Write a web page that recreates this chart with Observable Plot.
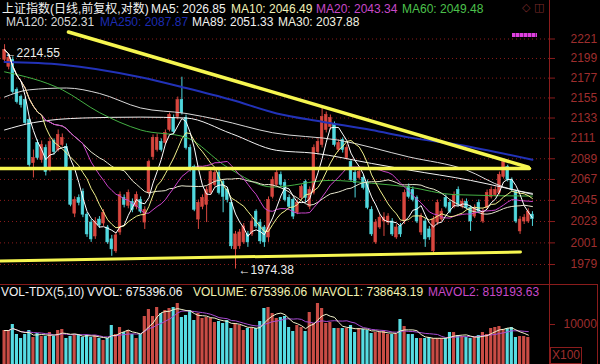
<!DOCTYPE html>
<html><head><meta charset="utf-8">
<script src="https://cdn.jsdelivr.net/npm/d3@7"></script>
<script src="https://cdn.jsdelivr.net/npm/@observablehq/plot@0.6"></script>
<style>
body{margin:0;background:#000;}
#root{position:relative;width:600px;height:364px;overflow:hidden;background:#000;font-family:"Liberation Sans",Arial,"Noto Sans CJK SC",sans-serif;font-size:12px;}
.t{position:absolute;white-space:nowrap;line-height:14px;font-size:12px;}
.ln{position:absolute;background:#8a1c1c;}
</style></head><body>
<div id="root"></div>
<script>
// ---- daily candles (index 0..128) ----
const opens = [2197.5,2189.6,2197.5,2163.8,2156.0,2152.6,2130.9,2084.3,2106.0,2087.5,2100.6,2079.1,2108.1,2098.4,2103.8,2101.6,2077.0,2031.1,2047.5,2053.8,2030.1,2021.9,2007.6,2025.0,2020.9,2016.8,2004.6,1992.4,2011.7,2047.5,2039.3,2043.4,2038.3,2045.4,2021.9,2052.8,2090.8,2098.4,2107.0,2106.0,2120.0,2133.1,2134.1,2152.6,2133.1,2100.6,2080.1,2025.0,2038.3,2040.3,2052.8,2061.2,2073.8,2064.3,2055.9,2042.3,1994.4,1997.5,2001.5,2009.7,2009.7,2033.2,2021.9,2016.8,2006.6,2048.6,2061.2,2071.7,2063.3,2047.5,2045.4,2032.1,2047.5,2064.3,2038.3,2052.8,2096.2,2103.8,2120.0,2123.3,2125.5,2098.4,2109.2,2089.7,2085.4,2073.8,2068.6,2068.6,2063.3,2035.2,2001.5,2016.8,2023.0,2021.9,2023.0,2006.6,2017.9,2023.0,2059.1,2055.9,2047.5,2011.7,2023.0,2014.8,1992.4,2021.9,2025.0,2047.5,2042.3,2038.3,2055.9,2038.3,2043.4,2037.2,2028.1,2042.3,2023.0,2037.2,2048.6,2050.7,2052.8,2069.6,2080.1,2066.4,2053.8,2012.8,2023.0,2023.0,2030.1];
const closes = [2208.7,2199.7,2161.6,2150.4,2147.2,2127.6,2082.2,2089.7,2089.7,2103.8,2074.9,2107.0,2096.2,2114.6,2111.4,2080.1,2040.3,2045.4,2042.3,2030.1,2009.7,2004.6,2023.0,2018.9,2032.1,2001.5,1994.4,2008.7,2050.7,2040.3,2052.8,2035.2,2050.7,2033.2,2035.2,2085.4,2111.4,2111.4,2098.4,2116.8,2136.3,2117.9,2152.6,2138.5,2100.6,2077.0,2035.2,2042.3,2047.5,2055.9,2074.9,2073.8,2052.8,2048.6,2045.4,1997.5,2009.7,2011.7,2017.9,2001.5,2023.0,2017.9,2002.6,2001.5,2045.4,2066.4,2073.8,2061.2,2045.4,2038.3,2028.1,2042.3,2059.1,2047.5,2055.9,2100.6,2107.0,2134.1,2136.3,2133.1,2103.8,2106.0,2098.4,2100.6,2066.4,2063.3,2074.9,2058.0,2037.2,2009.7,2021.9,2027.0,2027.0,2028.1,2009.7,2016.8,2009.7,2052.8,2048.6,2045.4,2023.0,2028.1,2004.6,2006.6,2025.0,2042.3,2033.2,2038.3,2033.2,2050.7,2040.3,2043.4,2037.2,2023.0,2037.2,2033.2,2033.2,2052.8,2055.9,2055.9,2071.7,2085.4,2066.4,2055.9,2023.0,2025.0,2027.0,2033.2,2025.5];
const highs = [2214.55,2203.1,2200.8,2166.1,2158.2,2154.9,2133.1,2098.4,2109.2,2108.1,2103.8,2111.4,2110.3,2120.0,2115.7,2104.9,2079.1,2048.6,2050.7,2057.0,2032.1,2025.0,2027.0,2028.1,2035.2,2018.9,2008.7,2011.7,2053.8,2050.7,2055.9,2046.5,2053.8,2048.6,2038.3,2087.5,2114.6,2115.7,2110.3,2120.0,2138.5,2136.3,2156.0,2178.0,2136.3,2103.8,2082.2,2045.4,2050.7,2059.1,2077.0,2077.0,2077.0,2066.4,2058.0,2045.4,2012.8,2014.8,2020.9,2012.8,2027.0,2035.2,2025.0,2018.9,2048.6,2069.6,2077.0,2074.9,2066.4,2050.7,2047.5,2045.4,2061.2,2066.4,2059.1,2103.8,2111.4,2145.0,2139.6,2136.3,2128.7,2109.2,2111.4,2103.8,2087.5,2077.0,2078.0,2071.7,2066.4,2038.3,2025.0,2030.1,2032.1,2031.1,2026.0,2019.9,2020.9,2055.9,2062.2,2059.1,2049.6,2031.1,2026.0,2017.9,2028.1,2045.4,2036.2,2050.7,2045.4,2053.8,2059.1,2046.5,2046.5,2039.3,2040.3,2045.4,2036.2,2055.9,2059.1,2059.1,2074.9,2087.5,2082.2,2068.6,2055.9,2028.1,2030.1,2036.2,2033.2];
const lows = [2194.1,2186.2,2159.3,2148.3,2143.9,2125.5,2080.1,2068.6,2087.5,2084.3,2070.7,2074.9,2093.0,2096.2,2101.6,2078.0,2038.3,2027.0,2039.3,2027.0,2006.6,2001.5,2004.6,2015.8,2017.9,1999.5,1987.3,1990.3,2008.7,2037.2,2036.2,2032.1,2035.2,2031.1,2014.8,2050.7,2087.5,2096.2,2096.2,2103.8,2117.9,2115.7,2130.9,2136.3,2098.4,2074.9,2033.2,2014.8,2035.2,2021.9,2050.7,2059.1,2050.7,2032.1,2042.3,1994.4,1974.38,1994.4,1999.5,1996.4,2007.6,2015.8,1999.5,1996.4,2001.5,2046.5,2059.1,2059.1,2043.4,2036.2,2025.0,2030.1,2045.4,2042.3,2035.2,2050.7,2093.0,2100.6,2116.8,2120.0,2101.6,2096.2,2095.1,2087.5,2064.3,2047.5,2066.4,2055.9,2035.2,2007.6,1999.5,2014.8,2007.6,2018.9,2007.6,2004.6,2006.6,2019.9,2046.5,2043.4,2020.9,2008.7,1996.4,2003.6,1989.3,2018.9,2023.0,2036.2,2031.1,2036.2,2038.3,2036.2,2035.2,2012.8,2026.0,2031.1,2020.9,2035.2,2046.5,2048.6,2050.7,2067.5,2064.3,2053.8,2020.9,2009.7,2019.9,2020.9,2017.9];
const volumes = [850000,850000,1000000,750000,650000,750000,850000,675000,775000,700000,700000,800000,700000,850000,875000,650000,700000,750000,750000,675000,725000,675000,725000,650000,600000,650000,975000,750000,925000,800000,850000,750000,650000,750000,1200000,1375000,1200000,1425000,1275000,1350000,1400000,1425000,
1525000,1175000,1225000,1350000,1100000,1275000,1150000,1175000,1150000,1050000,1075000,1025000,1100000,900000,1025000,975000,850000,900000,900000,900000,1075000,1400000,1425000,1275000,1150000,1175000,1200000,925000,825000,975000,925000,825000,1300000,1025000,1525000,1400000,1025000,1050000,900000,900000,900000,900000,975000,
800000,900000,875000,850000,775000,800000,800000,825000,750000,750000,750000,1125000,950000,750000,750000,650000,650000,650000,675000,650000,650000,650000,650000,800000,800000,725000,700000,675000,650000,675000,725000,800000,750000,900000,925000,950000,875000,900000,925000,675000,700000,700000,675396.06];

// ---- long moving averages (index, value) ----
const ma60Idx  = [0,14,23,33,44,54,65,79,89,98,109,128];
const ma60Val  = [2184,2164,2139,2120,2112,2080,2059,2066,2063,2059,2051,2049.48];
const ma89Idx  = [0,7,19,33,44,55,66,75,89,98,113,128];
const ma89Val  = [2120,2128,2133,2134,2133,2116,2098,2095,2084,2077,2066,2051.33];
const ma120Idx = [0,6,15,23,33,44,52,65,81,98,112,121,128];
const ma120Val = [2156,2164,2166,2160,2144,2138,2131,2117,2109,2091,2077,2059,2052.31];
const ma250Idx = [0,14,33,44,55,66,77,89,98,110,128];
const ma250Val = [2195,2192,2178,2166,2153,2138,2129,2120,2112,2104,2087.87];

// ---- hand-drawn trend lines (index, price) ----
const trendTopIdx = [15.5,127];     const trendTopVal = [2229,2080];
const trendMidIdx = [-1,127.3];     const trendMidVal = [2078.6,2078.6];
const trendLowIdx = [-1,125.1];     const trendLowVal = [1982.5,1991.7];

// ---- axis ticks ----
const yTicks = [1979,2001,2023,2045,2067,2089,2111,2133,2155,2177,2199,2221];
const volTicks = [1000000];
const volTickLabels = ["10000"];

// ---- legends ----
const leg1Labels = ["上证指数(日线,前复权,对数)","MA5: 2026.85","MA10: 2046.49","MA20: 2043.34","MA60: 2049.48"];
const leg1Colors = ["#f2f2f2","#f2f2f2","#f2f2b8","#c848c8","#4cc04c"];
const leg1Left   = [2,151,231,316,402];
const leg2Labels = ["MA120: 2052.31","MA250: 2087.87","MA89: 2051.33","MA30: 2037.88"];
const leg2Colors = ["#d8d8d8","#1c2cb4","#f2f2f2","#f2f2e0"];
const leg2Left   = [6,100,192,278];
const leg3Labels = ["VOL-TDX(5,10)","VVOL: 675396.06","VOLUME: 675396.06","MAVOL1: 738643.19","MAVOL2: 819193.63"];
const leg3Colors = ["#f2f2f2","#f2f2f2","#f2f2b0","#f2f2b0","#c848c8"];
const leg3Left   = [1,87,193,312,428];

// ---- extreme annotations ----
const annHigh = [{i:0, v:2214.55, label:"←2214.55"}];
const annLow  = [{i:56, v:1974.38, label:"←1974.38"}];

const root = document.getElementById("root");
const upC = "#d8473f", dnC = "#50d8de", upV = "#c94c45", dnV = "#56dce2";
const candles = closes.map((c,i)=>({i, open:opens[i], close:c, high:highs[i], low:lows[i]}));
const col = d => d.close >= d.open ? upC : dnC;
const pts = (a,b) => a.map((x,k)=>({i:x, v:b[k]}));
const xScale = {domain:[-0.5,128.5], range:[2,534], axis:null};
const axisRed = "#8a1c1c", labelRed = "#9e2e2e";

const price = Plot.plot({
  width:600, height:284, marginLeft:0, marginRight:51, marginTop:0, marginBottom:0,
  style:{position:"absolute", left:"0px", top:"0px", background:"transparent", fontFamily:'"Liberation Sans",Arial,sans-serif', fontSize:"12px", overflow:"visible"},
  x: xScale,
  y: {type:"log", domain:[1979,2221], range:[264,38.5], label:null},
  color: {type:"identity"},
  marks: [
    Plot.gridY(yTicks, {stroke:axisRed, strokeOpacity:1, strokeDasharray:"1,3"}),
    Plot.axisY(yTicks, {anchor:"right", tickSize:5, tickPadding:16, stroke:axisRed, fill:labelRed, fontSize:12, tickFormat:d=>String(d), label:null}),
    Plot.ruleX(candles, {x:"i", y1:"low", y2:"high", stroke:col, strokeWidth:1}),
    Plot.rect(candles, {x1:d=>d.i-0.32, x2:d=>d.i+0.32, y1:"open", y2:"close", fill:col, stroke:col, strokeWidth:0.6}),
    Plot.line(pts(ma250Idx,ma250Val), {x:"i", y:"v", stroke:"#2232b8", strokeWidth:2, curve:"monotone-x"}),
    Plot.line(pts(ma120Idx,ma120Val), {x:"i", y:"v", stroke:"#d8d8d8", strokeWidth:1, curve:"monotone-x"}),
    Plot.line(pts(ma89Idx,ma89Val), {x:"i", y:"v", stroke:"#f2f2f2", strokeWidth:1, curve:"monotone-x"}),
    Plot.line(pts(ma60Idx,ma60Val), {x:"i", y:"v", stroke:"#44b044", strokeWidth:1, curve:"monotone-x"}),
    Plot.lineY(candles, Plot.windowY({k:30, anchor:"end"}, {x:"i", y:"close", stroke:"#e8e8d0", strokeWidth:1})),
    Plot.lineY(candles, Plot.windowY({k:20, anchor:"end"}, {x:"i", y:"close", stroke:"#cc44cc", strokeWidth:1})),
    Plot.lineY(candles, Plot.windowY({k:10, anchor:"end"}, {x:"i", y:"close", stroke:"#f0f08c", strokeWidth:1})),
    Plot.lineY(candles, Plot.windowY({k:5, anchor:"end"}, {x:"i", y:"close", stroke:"#ffffff", strokeWidth:1})),
    Plot.line(pts(trendTopIdx,trendTopVal), {x:"i", y:"v", stroke:"#f6f650", strokeWidth:3.5}),
    Plot.line(pts(trendMidIdx,trendMidVal), {x:"i", y:"v", stroke:"#f6f650", strokeWidth:3.5}),
    Plot.line(pts(trendLowIdx,trendLowVal), {x:"i", y:"v", stroke:"#f6f650", strokeWidth:3}),
    Plot.text(annHigh, {x:"i", y:"v", text:"label", textAnchor:"start", dx:0, dy:8, fill:"#eeeeee", fontSize:12}),
    Plot.text(annLow, {x:"i", y:"v", text:"label", textAnchor:"start", dx:3, dy:1, fill:"#eeeeee", fontSize:12})
  ]
});
root.appendChild(price);

const volData = volumes.map((v,i)=>({i, v, c: closes[i] >= opens[i] ? upV : dnV}));
const vol = Plot.plot({
  width:600, height:80, marginLeft:0, marginRight:51, marginTop:0, marginBottom:0,
  style:{position:"absolute", left:"0px", top:"284px", background:"transparent", fontFamily:'"Liberation Sans",Arial,sans-serif', fontSize:"12px"},
  x: xScale,
  y: {domain:[0,1000000], range:[80,40], label:null},
  color: {type:"identity"},
  marks: [
    Plot.rectY(volData, {x1:d=>d.i-0.38, x2:d=>d.i+0.38, y:"v", fill:"c"}),
    Plot.lineY(volData, Plot.windowY({k:10, anchor:"end"}, {x:"i", y:"v", stroke:"#a84cd4", strokeWidth:1})),
    Plot.lineY(volData, Plot.windowY({k:5, anchor:"end"}, {x:"i", y:"v", stroke:"#f4f4cc", strokeWidth:1})),
    Plot.axisY(volTicks, {anchor:"right", tickSize:5, tickPadding:9, stroke:axisRed, fill:labelRed, fontSize:12, tickFormat:(d,k)=>volTickLabels[k], label:null})
  ]
});
root.appendChild(vol);

// frame lines
function line(l,t,w,h){const d=document.createElement("div");d.className="ln";Object.assign(d.style,{left:l+"px",top:t+"px",width:w+"px",height:h+"px"});root.appendChild(d);}
line(549,0,1,364); line(0,284,597,1); line(597,284,1,80);
const box=document.createElement("div");
Object.assign(box.style,{position:"absolute",left:"550px",top:"347px",width:"30px",height:"15px",border:"1px solid "+axisRed,color:labelRed,fontSize:"12px",lineHeight:"15px",textAlign:"center"});
box.textContent="X100"; root.appendChild(box);

// legends
function legend(labels,colors,lefts,top){labels.forEach((s,k)=>{const e=document.createElement("div");e.className="t";e.textContent=s;Object.assign(e.style,{left:lefts[k]+"px",top:top+"px",color:colors[k]});root.appendChild(e);});}
legend(leg1Labels,leg1Colors,leg1Left,2);
legend(leg2Labels,leg2Colors,leg2Left,15);
legend(leg3Labels,leg3Colors,leg3Left,285);

// top-right icons and signal marker
const ic=document.createElement("div");ic.className="t";ic.textContent="◇ ◫";
Object.assign(ic.style,{left:"522px",top:"1px",color:"#7a2a2a",fontFamily:"DejaVu Sans",fontSize:"11px"});root.appendChild(ic);
const mk=document.createElement("div");
Object.assign(mk.style,{position:"absolute",left:"512px",top:"33px",width:"25px",height:"4px",background:"repeating-linear-gradient(90deg,#e040e0 0 3px,#7a207a 3px 4px)"});
root.appendChild(mk);
</script>
</body></html>
